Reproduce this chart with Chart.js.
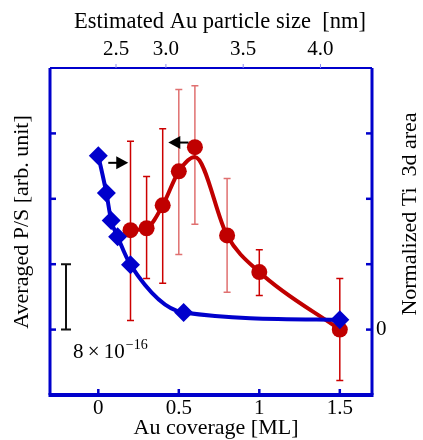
<!DOCTYPE html>
<html><head><meta charset="utf-8">
<script src="https://cdn.jsdelivr.net/npm/chart.js@4/dist/chart.umd.min.js"></script>
<style>html,body{margin:0;padding:0;background:#fff;}#wrap{width:423px;height:440px;}</style>
</head><body><div id="wrap"><canvas id="c" width="423" height="440"></canvas></div>
<script>
// ---- data ----
const coverageTicks = [0, 0.5, 1, 1.5];
const coverageTickLabels = ['0', '0.5', '1', '1.5'];
const sizeTickLabels = ['2.5', '3.0', '3.5', '4.0'];
const sizeTickCoverage = [0.11, 0.42, 0.90, 1.38];
const leftTicks = [0, 1, 2, 3];
const rightTicks = [0, 1, 2, 3];
const rightTickLabels = ['0'];

const ti3dCoverage = [0, 0.05, 0.08, 0.12, 0.2, 0.53, 1.5];
const ti3dArea = [2.66, 2.09, 1.67, 1.42, 0.99, 0.26, 0.15];

const psCoverage = [0.2, 0.3, 0.4, 0.5, 0.6, 0.8, 1.0, 1.5];
const psValue = [1.52, 1.55, 1.90, 2.42, 2.79, 1.44, 0.88, 0.0];
const psErrHigh = [2.88, 2.34, 3.07, 3.67, 3.73, 2.31, 1.22, 0.78];
const psErrLow = [0.14, 0.78, 0.71, 1.15, 1.61, 0.57, 0.52, -0.78];
const psCurveValue = [1.52, 1.55, 1.90, 2.42, 2.64, 1.44, 0.88, 0.0];

const scaleBarRange = [0, 1];           // one unit = 8×10^-16
const arrowRight = {from: 0.062, to: 0.186, at: 2.55};
const arrowLeft = {from: 0.56, to: 0.435, at: 2.86};

// ---- styles ----
const BLUE = '#0000cc';
const RED = '#c00000';
const FONT = "'Liberation Serif', 'Times New Roman', serif";
const errColors = ['#cc0000', '#cc0000', '#cc0000', '#e07070', '#e07070', '#e07070', '#cc0000', '#cc0000'];

const deco = {
  id: 'deco',
  beforeDatasetsDraw(chart) {
    const {ctx, scales: {x, y}} = chart;
    ctx.save();
    psCoverage.forEach((c, i) => {
      const px = x.getPixelForValue(c);
      const t = y.getPixelForValue(psErrHigh[i]);
      const b = y.getPixelForValue(psErrLow[i]);
      ctx.strokeStyle = errColors[i];
      ctx.lineWidth = 1.5;
      ctx.beginPath();
      ctx.moveTo(px, t); ctx.lineTo(px, b);
      ctx.moveTo(px - 3.5, t); ctx.lineTo(px + 3.5, t);
      ctx.moveTo(px - 3.5, b); ctx.lineTo(px + 3.5, b);
      ctx.stroke();
    });
    ctx.restore();
  },
  afterDraw(chart) {
    const {ctx, chartArea: a, scales: {x, y, x2}} = chart;
    ctx.save();
    // frame
    ctx.strokeStyle = BLUE;
    ctx.lineWidth = 2;
    ctx.beginPath(); ctx.moveTo(a.left, a.top); ctx.lineTo(a.right, a.top); ctx.stroke();
    ctx.lineWidth = 3;
    ctx.beginPath(); ctx.moveTo(a.left, a.top); ctx.lineTo(a.left, a.bottom); ctx.stroke();
    ctx.beginPath(); ctx.moveTo(a.right, a.top); ctx.lineTo(a.right, a.bottom); ctx.stroke();
    ctx.lineWidth = 4;
    ctx.beginPath(); ctx.moveTo(a.left - 1.5, a.bottom); ctx.lineTo(a.right + 1.5, a.bottom); ctx.stroke();
    // ticks
    ctx.lineWidth = 2.5;
    leftTicks.forEach(v => { const py = y.getPixelForValue(v); ctx.beginPath(); ctx.moveTo(a.left, py); ctx.lineTo(a.left + 6, py); ctx.stroke(); });
    rightTicks.forEach(v => { const py = y.getPixelForValue(v); ctx.beginPath(); ctx.moveTo(a.right - 6, py); ctx.lineTo(a.right + 1, py); ctx.stroke(); });
    coverageTicks.forEach(v => { const px = x.getPixelForValue(v); ctx.beginPath(); ctx.moveTo(px, a.bottom); ctx.lineTo(px, a.bottom - 6); ctx.stroke(); });
    ctx.strokeStyle = '#8c8cf0';
    ctx.lineWidth = 1;
    sizeTickCoverage.forEach(v => { const px = x2.getPixelForValue(v); ctx.beginPath(); ctx.moveTo(px, a.top); ctx.lineTo(px, a.top - 4); ctx.stroke(); });
    // arrows
    ctx.fillStyle = '#000'; ctx.strokeStyle = '#000'; ctx.lineWidth = 2;
    [arrowRight, arrowLeft].forEach(ar => {
      const x0 = x.getPixelForValue(ar.from), x1 = x.getPixelForValue(ar.to), py = y.getPixelForValue(ar.at);
      const dir = Math.sign(x1 - x0);
      ctx.beginPath(); ctx.moveTo(x0, py); ctx.lineTo(x1 - dir * 8, py); ctx.stroke();
      ctx.beginPath(); ctx.moveTo(x1, py); ctx.lineTo(x1 - dir * 12, py - 6.5); ctx.lineTo(x1 - dir * 12, py + 6.5); ctx.closePath(); ctx.fill();
    });
    // scale bar
    const sbx = a.left + 16;
    const sbt = y.getPixelForValue(scaleBarRange[1]), sbb = y.getPixelForValue(scaleBarRange[0]);
    ctx.strokeStyle = '#111'; ctx.lineWidth = 2;
    ctx.beginPath();
    ctx.moveTo(sbx, sbt); ctx.lineTo(sbx, sbb);
    ctx.moveTo(sbx - 5, sbt); ctx.lineTo(sbx + 5, sbt);
    ctx.moveTo(sbx - 5, sbb); ctx.lineTo(sbx + 5, sbb);
    ctx.stroke();
    ctx.fillStyle = '#000';
    ctx.textBaseline = 'alphabetic'; ctx.textAlign = 'left';
    ctx.font = '21px ' + FONT;
    const base = 358;
    const t1 = '8\u2009\u00d7\u200910';
    ctx.fillText(t1, 73, base);
    const w1 = ctx.measureText(t1).width;
    ctx.font = '14px ' + FONT;
    ctx.fillText('\u221216', 73 + w1 + 1, base - 9);
    // axis titles
    ctx.font = '22px ' + FONT;
    ctx.textAlign = 'center'; ctx.textBaseline = 'middle';
    ctx.fillText('Au coverage [ML]', 216, 428);
    ctx.font = '22.5px ' + FONT;
    ctx.fillText('Estimated Au particle size  [nm]', 220, 22);
    ctx.font = '22px ' + FONT;
    ctx.save(); ctx.translate(22, 222); ctx.rotate(-Math.PI / 2); ctx.fillText('Averaged P/S [arb. unit]', 0, 0); ctx.restore();
    ctx.save(); ctx.translate(410, 214); ctx.rotate(-Math.PI / 2); ctx.fillText('Normalized Ti  3d area', 0, 0); ctx.restore();
    ctx.restore();
  }
};

const tickFont = {family: FONT, size: 21};
new Chart(document.getElementById('c'), {
  type: 'scatter',
  data: {
    datasets: [
      {
        label: 'Normalized Ti 3d area',
        data: ti3dCoverage.map((c, i) => ({x: c, y: ti3dArea[i]})),
        showLine: true, borderColor: BLUE, backgroundColor: BLUE, borderWidth: 4,
        pointStyle: 'rectRot', pointRadius: 9.5, pointBorderWidth: 0,
        cubicInterpolationMode: 'monotone', order: 0
      },
      {
        label: 'Averaged P/S',
        data: psCoverage.map((c, i) => ({x: c, y: psValue[i]})),
        showLine: false, borderColor: RED, backgroundColor: RED,
        pointStyle: 'circle', pointRadius: 8, pointBorderWidth: 0, order: 1
      },
      {
        label: 'Averaged P/S curve',
        data: psCoverage.map((c, i) => ({x: c, y: psCurveValue[i]})),
        showLine: true, borderColor: RED, borderWidth: 4, pointRadius: 0,
        cubicInterpolationMode: 'monotone', order: 2
      }
    ]
  },
  options: {
    responsive: false, animation: false, events: [],
    layout: {padding: 0},
    plugins: {legend: {display: false}, tooltip: {enabled: false}},
    scales: {
      x: {
        type: 'linear', position: 'bottom', min: -0.3, max: 1.7,
        afterBuildTicks: s => { s.ticks = coverageTicks.map(v => ({value: v})); },
        ticks: {callback: (v, i) => coverageTickLabels[i], font: tickFont, color: '#000', padding: 1, maxRotation: 0, autoSkip: false},
        grid: {display: false, drawTicks: false}, border: {display: false},
        afterFit: s => { s.height = 45; }
      },
      x2: {
        type: 'linear', position: 'top', min: -0.3, max: 1.7,
        afterBuildTicks: s => { s.ticks = sizeTickCoverage.map(v => ({value: v})); },
        ticks: {callback: (v, i) => sizeTickLabels[i], font: tickFont, color: '#000', padding: 6, maxRotation: 0, autoSkip: false},
        grid: {display: false, drawTicks: false}, border: {display: false},
        afterFit: s => { s.height = 68; }
      },
      y: {
        type: 'linear', position: 'left', min: -1, max: 4,
        ticks: {display: false}, grid: {display: false, drawTicks: false}, border: {display: false},
        afterFit: s => { s.width = 50; }
      },
      y2: {
        type: 'linear', position: 'right', min: -1, max: 4,
        afterBuildTicks: s => { s.ticks = [{value: 0}]; },
        ticks: {callback: (v, i) => rightTickLabels[i], font: tickFont, color: '#000', padding: 4},
        grid: {display: false, drawTicks: false}, border: {display: false},
        afterFit: s => { s.width = 51; }
      }
    }
  },
  plugins: [deco]
});
</script>
</body></html>
